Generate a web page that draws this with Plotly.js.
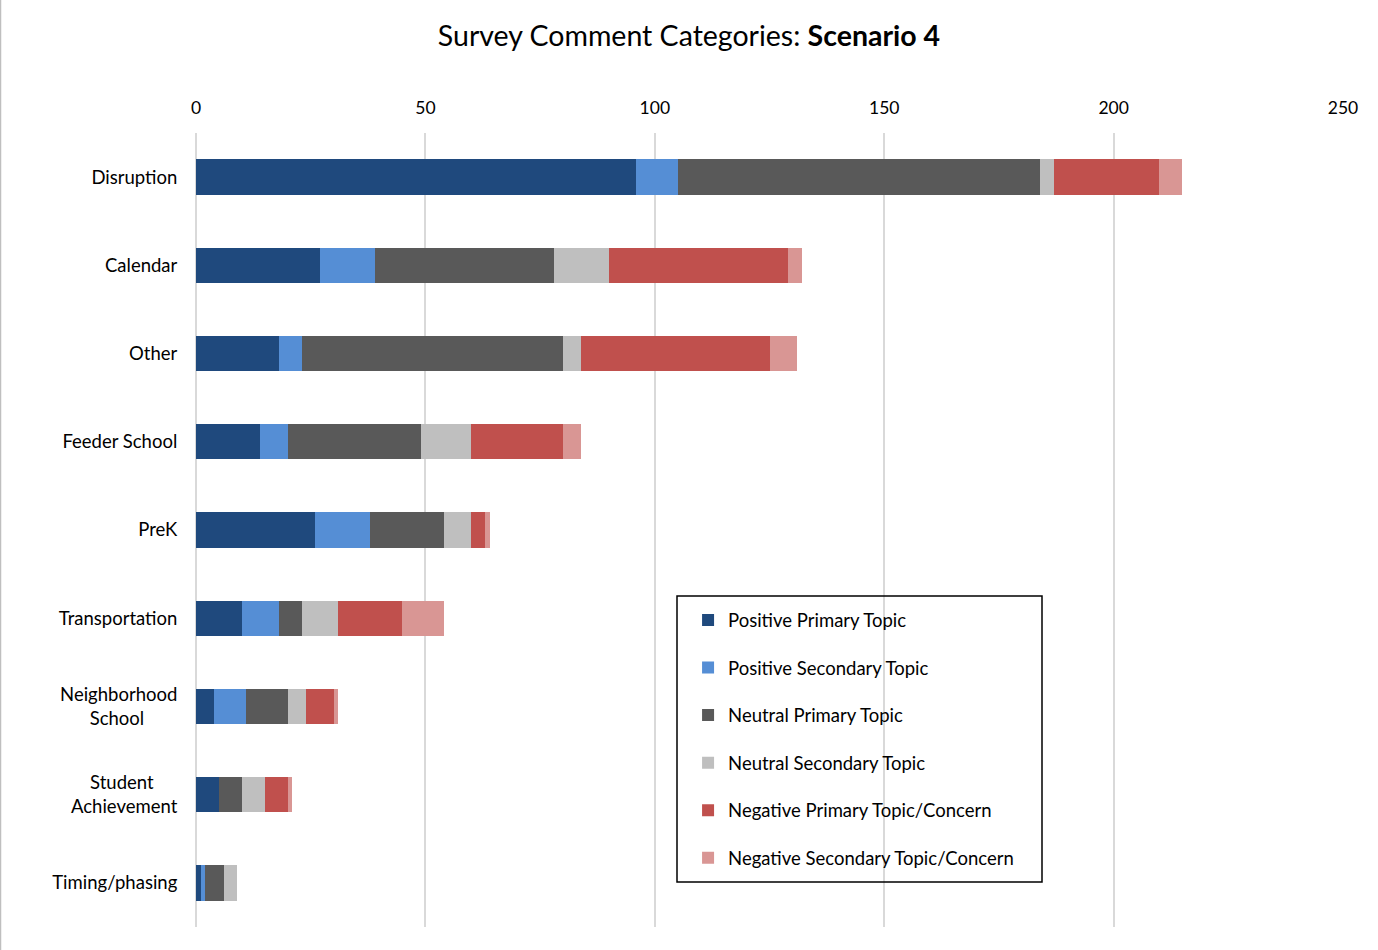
<!DOCTYPE html>
<html>
<head>
<meta charset="utf-8">
<script src="https://cdn.plot.ly/plotly-3.0.1.min.js"></script>
<style>html,body{margin:0;padding:0;background:#fff;}#chart{width:1378px;height:950px;}</style>
</head>
<body>
<div id="chart"></div>
<script>
const categories = ["Disruption","Calendar","Other","Feeder School","PreK","Transportation","Neighborhood<br>School","Student<br>Achievement","Timing/phasing"];
const tickLabels = ["Disruption","Calendar","Other","Feeder School","PreK","Transportation","Neighborhood<br>\u00a0\u00a0\u00a0\u00a0\u00a0\u00a0\u00a0School\u00a0\u00a0\u00a0\u00a0\u00a0\u00a0\u00a0","Student\u00a0\u00a0\u00a0\u00a0\u00a0<br>Achievement","Timing/phasing"];
const positivePrimary   = [96, 27, 18, 14, 26, 10, 4, 5, 1];
const positiveSecondary = [9, 12, 5, 6, 12, 8, 7, 0, 1];
const neutralPrimary    = [79, 39, 57, 29, 16, 5, 9, 5, 4];
const neutralSecondary  = [3, 12, 4, 11, 6, 8, 4, 5, 3];
const negativePrimary   = [23, 39, 41, 20, 3, 14, 6, 5, 0];
const negativeSecondary = [5, 3, 6, 4, 1, 9, 1, 1, 0];
const seriesNames = ["Positive Primary Topic","Positive Secondary Topic","Neutral Primary Topic","Neutral Secondary Topic","Negative Primary Topic/Concern","Negative Secondary Topic/Concern"];
const seriesColors = ["#1F497D","#558ED5","#595959","#BFBFBF","#C0504D","#D99694"];
const seriesValues = [positivePrimary, positiveSecondary, neutralPrimary, neutralSecondary, negativePrimary, negativeSecondary];

const traces = seriesValues.map((vals, i) => ({
  type: 'bar',
  orientation: 'h',
  name: seriesNames[i],
  legendgroup: 'g' + i,
  y: categories,
  x: vals,
  marker: {color: seriesColors[i], line: {width: 0}},
  hoverinfo: 'x+name'
}));

const font = "Lato, 'Open Sans', sans-serif";
const layout = {
  width: 1378, height: 950,
  paper_bgcolor: '#fff', plot_bgcolor: '#fff',
  margin: {l: 196, r: 35, t: 133, b: 23},
  barmode: 'stack',
  bargap: 0.6,
  font: {family: font, size: 18.5, color: '#000'},
  title: {text: 'Survey Comment Categories: <b>Scenario 4</b>', x: 0.5, xanchor: 'center', y: 0.962, yanchor: 'middle', font: {family: font, size: 28.5, color: '#000'}},
  xaxis: {
    side: 'top', range: [0, 250], dtick: 50, tick0: 0,
    showgrid: true, gridcolor: '#D9D9D9', gridwidth: 2,
    zeroline: true, zerolinecolor: '#D9D9D9', zerolinewidth: 2,
    showline: false,
    ticks: 'outside', ticklen: 11, tickcolor: 'rgba(0,0,0,0)',
    tickfont: {family: font, size: 17.5, color: '#000'},
    fixedrange: true
  },
  yaxis: {
    type: 'category', autorange: 'reversed',
    tickvals: categories, ticktext: tickLabels,
    showgrid: false, zeroline: false, showline: false,
    ticks: 'outside', ticklen: 14, tickcolor: 'rgba(0,0,0,0)',
    tickfont: {family: font, size: 18.5, color: '#000'},
    fixedrange: true
  },
  legend: {
    x: 0.429, xanchor: 'left', y: 0.41, yanchor: 'top',
    bgcolor: 'rgba(0,0,0,0)', borderwidth: 0,
    traceorder: 'grouped', tracegroupgap: 20.5,
    font: {family: font, size: 18.5, color: '#000'}
  },
  shapes: [
    {type: 'rect', xref: 'paper', yref: 'paper', x0: (677-196)/1147, x1: (1042-196)/1147, y0: (927-882)/794, y1: (927-596)/794, line: {color: '#000', width: 1.5}, fillcolor: 'rgba(0,0,0,0)'},
    {type: 'line', xref: 'paper', yref: 'paper', x0: -195.5/1147, x1: -195.5/1147, y0: -23/794, y1: 950/794, line: {color: '#BFBFBF', width: 1.5}}
  ]
};

Plotly.newPlot('chart', traces, layout, {displayModeBar: false, staticPlot: false});
</script>
</body>
</html>
